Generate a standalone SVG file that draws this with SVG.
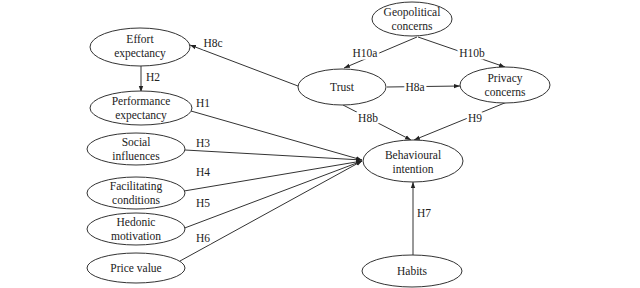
<svg xmlns="http://www.w3.org/2000/svg" width="640" height="288" viewBox="0 0 640 288">
<style>
.n ellipse{fill:#fff;stroke:#333;stroke-width:1}
text{font-family:"Liberation Serif","Times New Roman",serif;font-size:11.5px;fill:#222;text-anchor:middle}
.c line{stroke:#333;stroke-width:1;marker-end:url(#ah)}
.lb text{stroke:#fff;stroke-width:5px;paint-order:stroke;stroke-linejoin:round}
</style>
<defs>
<marker id="ah" markerUnits="userSpaceOnUse" markerWidth="6" markerHeight="6" viewBox="0 0 6 6" refX="6" refY="3" orient="auto">
<path d="M0,0.8 L6,3 L0,5.2 Z" fill="#222"/>
</marker>
</defs>
<rect width="640" height="288" fill="#fff"/>
<g id="connectors" class="c">
<line x1="141" y1="66" x2="141" y2="92"/>
<line x1="298" y1="86" x2="190" y2="45"/>
<line x1="191" y1="111" x2="362" y2="160"/>
<line x1="185" y1="150" x2="362" y2="160"/>
<line x1="184" y1="191" x2="362" y2="161"/>
<line x1="182" y1="229" x2="362" y2="161"/>
<line x1="180" y1="261" x2="362" y2="161"/>
<line x1="417" y1="37" x2="344" y2="68"/>
<line x1="418" y1="37" x2="505" y2="67"/>
<line x1="387" y1="87" x2="460" y2="86"/>
<line x1="343" y1="105" x2="411" y2="140"/>
<line x1="507" y1="102" x2="414" y2="140"/>
<line x1="413" y1="255" x2="413" y2="182"/>
</g>
<g id="labels" class="lb">
<text x="153" y="81">H2</text>
<text x="213" y="47">H8c</text>
<text x="203" y="107">H1</text>
<text x="203" y="147">H3</text>
<text x="203" y="176">H4</text>
<text x="203" y="207">H5</text>
<text x="203" y="242">H6</text>
<text x="365" y="57">H10a</text>
<text x="472" y="57">H10b</text>
<text x="415" y="91">H8a</text>
<text x="368" y="122">H8b</text>
<text x="475" y="122">H9</text>
<text x="424" y="217">H7</text>
</g>
<g id="effort" class="n"><ellipse cx="140" cy="47" rx="50" ry="19"/><text x="140" y="43">Effort</text><text x="140" y="57">expectancy</text></g>
<g id="performance" class="n"><ellipse cx="141" cy="108" rx="51" ry="17"/><text x="141" y="105">Performance</text><text x="141" y="119">expectancy</text></g>
<g id="social" class="n"><ellipse cx="136" cy="149" rx="49" ry="16"/><text x="136" y="146">Social</text><text x="136" y="160">influences</text></g>
<g id="facilitating" class="n"><ellipse cx="136" cy="193" rx="49" ry="16"/><text x="136" y="190">Facilitating</text><text x="136" y="204">conditions</text></g>
<g id="hedonic" class="n"><ellipse cx="136" cy="229" rx="49" ry="16"/><text x="136" y="226">Hedonic</text><text x="136" y="240">motivation</text></g>
<g id="price" class="n"><ellipse cx="136" cy="268" rx="49" ry="15"/><text x="136" y="272">Price value</text></g>
<g id="geopolitical" class="n"><ellipse cx="412" cy="19" rx="40" ry="17"/><text x="412" y="16">Geopolitical</text><text x="412" y="30">concerns</text></g>
<g id="trust" class="n"><ellipse cx="342" cy="87" rx="44" ry="18"/><text x="342" y="91">Trust</text></g>
<g id="privacy" class="n"><ellipse cx="505" cy="85" rx="45" ry="18"/><text x="505" y="82">Privacy</text><text x="505" y="96">concerns</text></g>
<g id="behavioural" class="n"><ellipse cx="413" cy="161" rx="50" ry="21"/><text x="413" y="159">Behavioural</text><text x="413" y="173">intention</text></g>
<g id="habits" class="n"><ellipse cx="412" cy="271" rx="50" ry="16"/><text x="412" y="275">Habits</text></g>
</svg>
